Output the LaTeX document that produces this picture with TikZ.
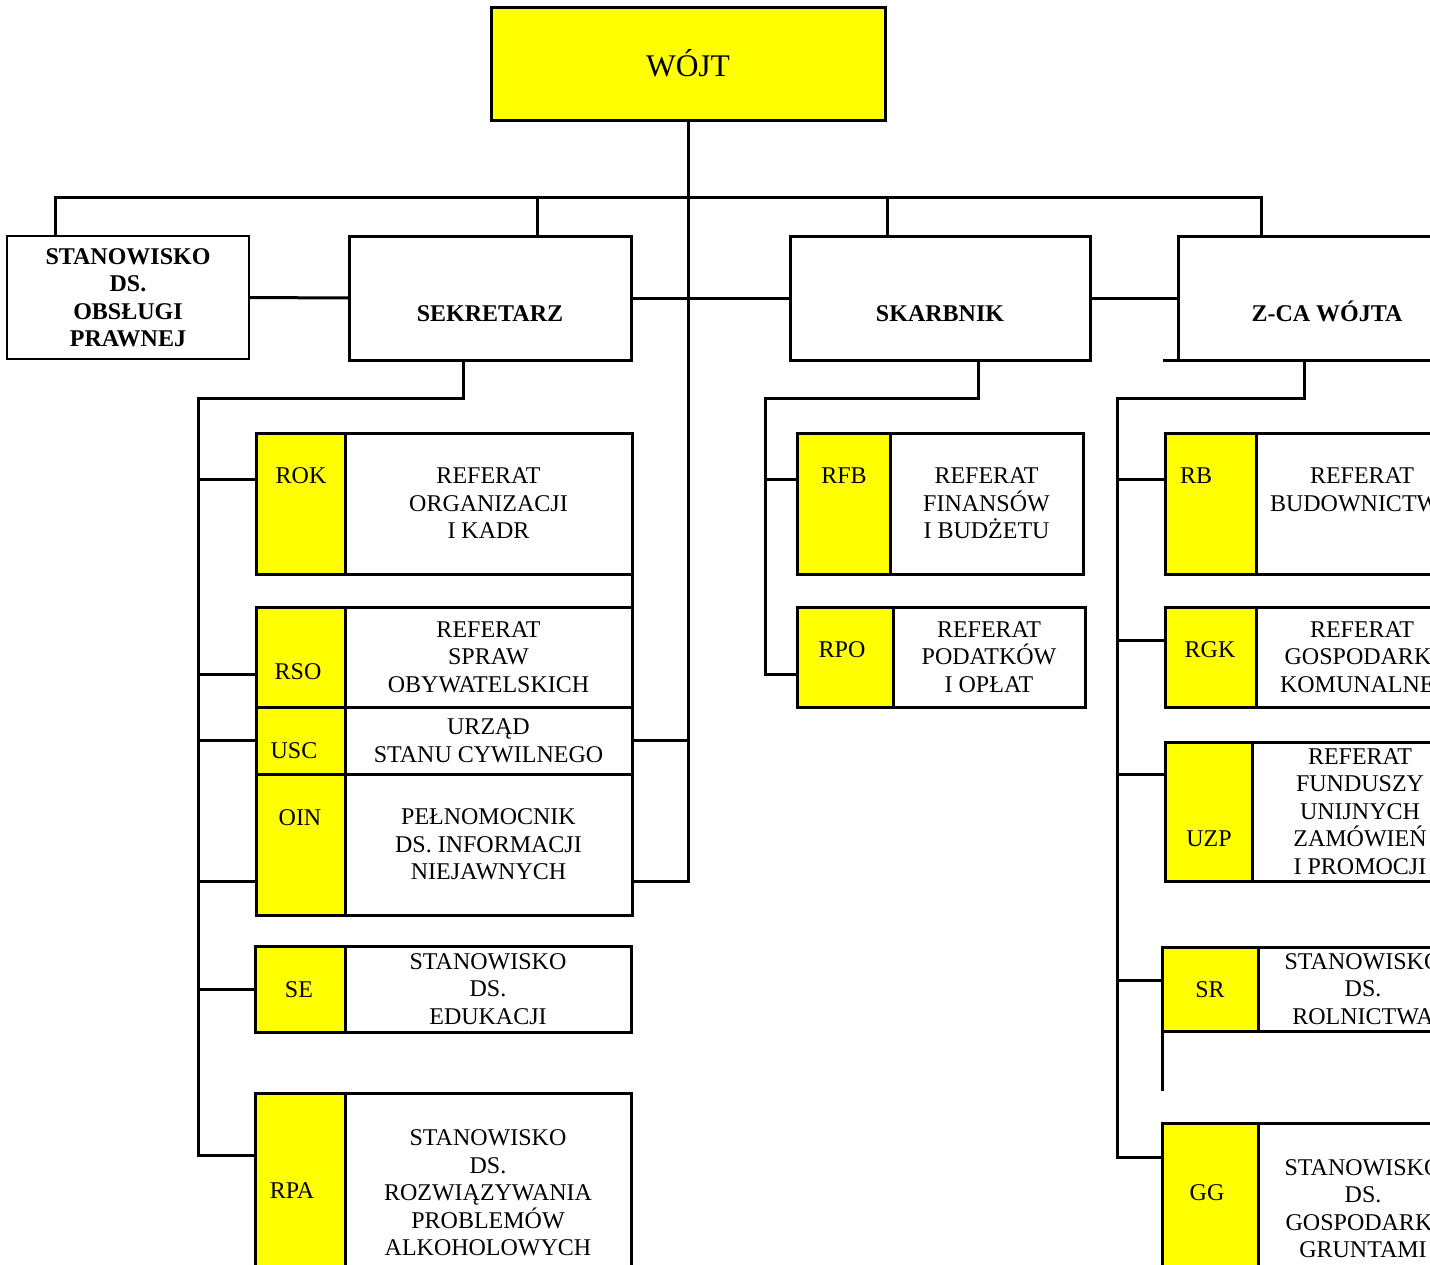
\documentclass[tikz,border=0pt]{standalone}
\usepackage{fontspec}
\setmainfont{Liberation Serif}
\usetikzlibrary{positioning}
\definecolor{unityellow}{RGB}{255,255,0}

\begin{document}
\begin{tikzpicture}[
    x=1pt, y=-1pt,
    every node/.style={font=\fontsize{24}{27.5}\selectfont},
    box/.style={rectangle, draw, line width=3pt, inner sep=0pt, outer sep=0pt, align=center},
    head/.style={box, anchor=north west, font=\fontsize{24}{27.5}\selectfont\bfseries},
    code/.style={box, fill=unityellow, anchor=north west},
    conn/.style={line width=3pt}
]
\clip (0,0) rectangle (1430,1264);
\fill[white] (0,0) rectangle (1430,1264);

% Top
\node[box, fill=unityellow, minimum width=394pt, minimum height=113pt, anchor=north west, font=\fontsize{31.5}{36}\selectfont] (wojt) at (491,7) {WÓJT};

% Row 2
\node[head, line width=2pt, minimum width=242pt, minimum height=123pt] (prawna) at (7,236) {STANOWISKO\\DS.\\OBSŁUGI\\PRAWNEJ};
\node[head, minimum width=282pt, minimum height=124pt, text height=46pt, text depth=0pt] (sekr) at (349,236) {SEKRETARZ};
\node[head, minimum width=300pt, minimum height=124pt, text height=46pt, text depth=0pt] (skarb) at (790,236) {SKARBNIK};
\node[head, minimum width=298pt, minimum height=124pt, text height=46pt, text depth=0pt] (zca) at (1178,236) {Z-CA WÓJTA};

% Sekretarz
\node[code, minimum width=89pt, minimum height=141pt] (rok) at (256,433) {};
\node[box, minimum width=287pt, minimum height=141pt, right=0pt of rok] (rokn) {REFERAT\\ORGANIZACJI\\I KADR};
\node (rok-l) at (301,476) {ROK};

\node[code, minimum width=89pt, minimum height=100pt] (rso) at (256,607) {};
\node[box, minimum width=287pt, minimum height=100pt, right=0pt of rso] (rson) {REFERAT\\SPRAW\\OBYWATELSKICH};
\node (rso-l) at (298,672) {RSO};

\node[code, minimum width=89pt, minimum height=67pt] (usc) at (256,707) {};
\node[box, minimum width=287pt, minimum height=67pt, right=0pt of usc] (uscn) {URZĄD\\STANU CYWILNEGO};
\node (usc-l) at (294,751) {USC};

\node[code, minimum width=89pt, minimum height=141pt] (oin) at (256,774) {};
\node[box, minimum width=287pt, minimum height=141pt, right=0pt of oin] (oinn) {PEŁNOMOCNIK\\DS. INFORMACJI\\NIEJAWNYCH};
\node (oin-l) at (300,818) {OIN};

\node[code, minimum width=90pt, minimum height=86pt] (se) at (255,946) {};
\node[box, minimum width=286pt, minimum height=86pt, right=0pt of se] (sen) {STANOWISKO\\DS.\\EDUKACJI};
\node (se-l) at (299,990) {SE};

\node[code, minimum width=90pt, minimum height=200pt] (rpa) at (255,1093) {};
\node[box, minimum width=286pt, minimum height=200pt, right=0pt of rpa] (rpan) {STANOWISKO\\DS.\\ROZWIĄZYWANIA\\PROBLEMÓW\\ALKOHOLOWYCH};
\node (rpa-l) at (292,1191) {RPA};

% Skarbnik
\node[code, minimum width=93pt, minimum height=141pt] (rfb) at (797,433) {};
\node[box, minimum width=193pt, minimum height=141pt, right=0pt of rfb] (rfbn) {REFERAT\\FINANSÓW\\I BUDŻETU};
\node (rfb-l) at (844,476) {RFB};

\node[code, minimum width=96pt, minimum height=100pt] (rpo) at (797,607) {};
\node[box, minimum width=192pt, minimum height=100pt, right=0pt of rpo] (rpon) {REFERAT\\PODATKÓW\\I OPŁAT};
\node (rpo-l) at (842,650) {RPO};

% Z-ca wojta
\node[code, minimum width=91pt, minimum height=141pt] (rb) at (1165,433) {};
\node[box, minimum width=212pt, minimum height=141pt, right=0pt of rb] (rbn) {REFERAT\\BUDOWNICTWA\\~};
\node (rb-l) at (1196,476) {RB};

\node[code, minimum width=91pt, minimum height=100pt] (rgk) at (1165,607) {};
\node[box, minimum width=212pt, minimum height=100pt, right=0pt of rgk] (rgkn) {REFERAT\\GOSPODARKI\\KOMUNALNEJ};
\node (rgk-l) at (1210,650) {RGK};

\node[code, minimum width=87pt, minimum height=139pt] (uzp) at (1165,742) {};
\node[box, minimum width=216pt, minimum height=139pt, right=0pt of uzp] (uzpn) {REFERAT\\FUNDUSZY\\UNIJNYCH\\ZAMÓWIEŃ\\I PROMOCJI};
\node (uzp-l) at (1209,839) {UZP};

\node[code, minimum width=96pt, minimum height=84pt] (sr) at (1162,947) {};
\node[box, minimum width=210pt, minimum height=84pt, right=0pt of sr] (srn) {STANOWISKO\\DS.\\ROLNICTWA};
\node (sr-l) at (1210,990) {SR};

\node[code, minimum width=96pt, minimum height=171pt] (gg) at (1162,1123) {};
\node[box, minimum width=210pt, minimum height=171pt, right=0pt of gg] (ggn) {STANOWISKO\\DS.\\GOSPODARKI\\GRUNTAMI};
\node (gg-l) at (1207,1193) {GG};

% Connections top
\draw[conn] (wojt.south) |- ([yshift=-36.5pt]oinn.east);
\draw[conn] (wojt.south |- uscn.east) -- (uscn.east);
\draw[conn] ([xshift=48pt]prawna.north west) -- ++(0,-39) -| ([xshift=83pt]zca.north west);
\draw[conn] ([xshift=188pt]sekr.north west) -- ++(0,-39);
\draw[conn] ([xshift=97pt]skarb.north west) -- ++(0,-39);
\draw[conn] (prawna.east) -- (sekr.west);
\draw[conn] (sekr.east) -- (skarb.west);
\draw[conn] (skarb.east) -- (zca.west);

% Connections sekretarz
\draw[conn] ([xshift=114pt]sekr.south west) -- ++(0,38) -| ([xshift=-57pt,yshift=38pt]rpa.west) -- ([yshift=38pt]rpa.west);
\draw[conn] ([yshift=24.5pt]rok.west) -- ++(-57,0);
\draw[conn] ([yshift=-17pt]rso.west) -- ++(-57,0);
\draw[conn] (usc.west) -- ++(-57,0);
\draw[conn] ([yshift=-36.5pt]oin.west) -- ++(-57,0);
\draw[conn] (se.west) -- ++(-56,0);
\draw[conn] (rokn.south east) -- (rson.north east);

% Connections skarbnik
\draw[conn] ([xshift=188pt]skarb.south west) -- ++(0,38) -| ([xshift=-32pt,yshift=-17pt]rpo.west) -- ([yshift=-17pt]rpo.west);
\draw[conn] ([yshift=24.5pt]rfb.west) -- ++(-32,0);

% Connections z-ca wojta
\draw[conn] ([xshift=126pt]zca.south west) -- ++(0,38) -| ([xshift=-45pt,yshift=51.5pt]gg.west) -- ([yshift=51.5pt]gg.west);
\draw[conn] (zca.south west) -- ++(-15,0);
\draw[conn] ([yshift=24.5pt]rb.west) -- ++(-48,0);
\draw[conn] ([yshift=17pt]rgk.west) -- ++(-48,0);
\draw[conn] ([yshift=37.5pt]uzp.west) -- ++(-48,0);
\draw[conn] ([yshift=9pt]sr.west) -- ++(-45,0);
\draw[conn] (sr.south west) -- ++(0,60);

\end{tikzpicture}
\end{document}
